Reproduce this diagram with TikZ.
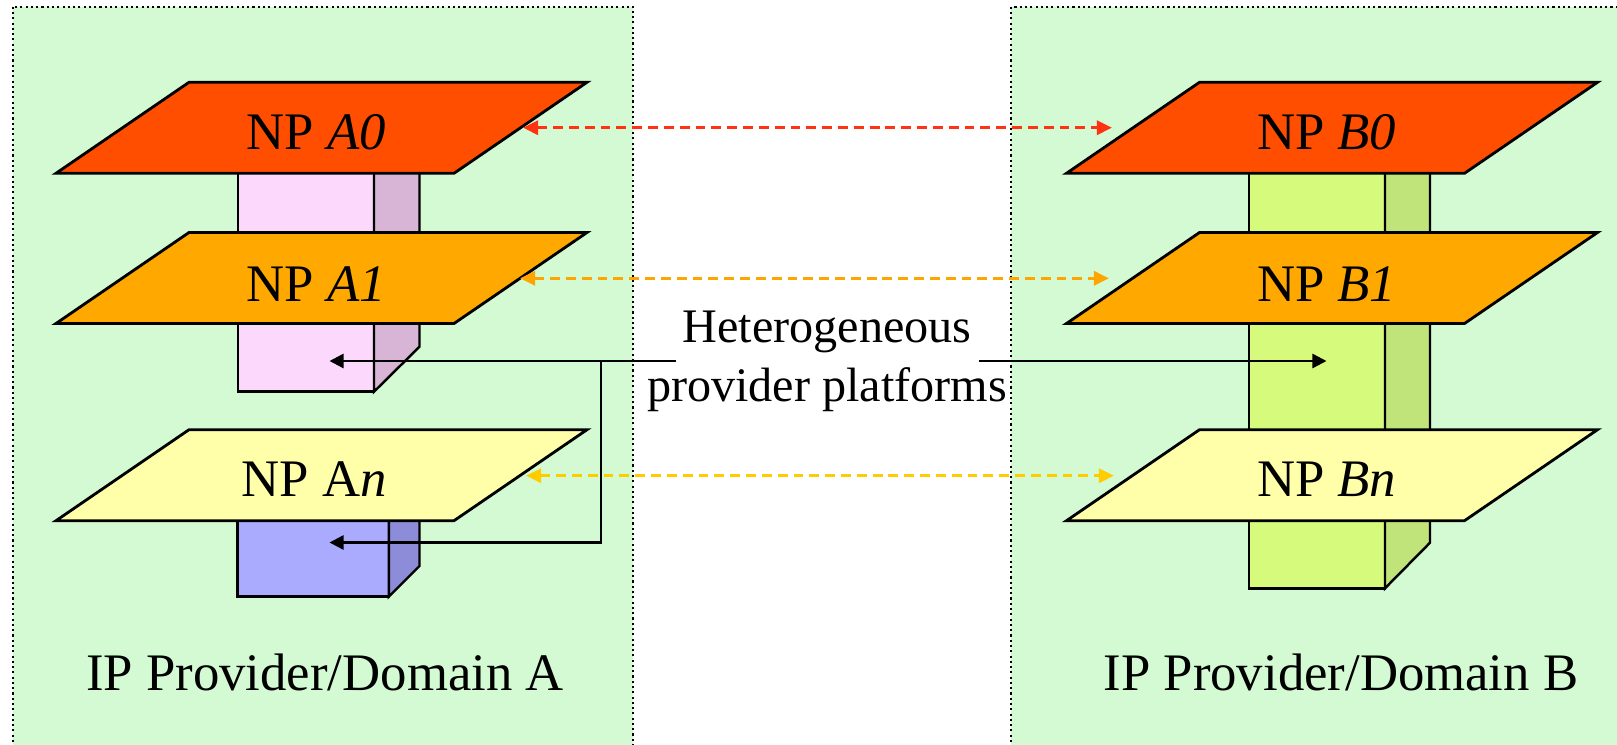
\documentclass[tikz,border=0pt]{standalone}
\usepackage{fontspec}
\setmainfont{Liberation Serif}
\usetikzlibrary{arrows.meta,positioning}

\definecolor{domaingreen}{HTML}{D4FAD4}
\definecolor{npzero}{HTML}{FF4E00}
\definecolor{npone}{HTML}{FFA800}
\definecolor{npn}{HTML}{FFFFAA}
\definecolor{pinkfront}{HTML}{FCD8FC}
\definecolor{pinkside}{HTML}{D8B4D6}
\definecolor{bluefront}{HTML}{AAAAFF}
\definecolor{blueside}{HTML}{8C8CD8}
\definecolor{limefront}{HTML}{D6FA7C}
\definecolor{limeside}{HTML}{C0E47A}
\definecolor{linkred}{HTML}{FF3311}
\definecolor{linkorange}{HTML}{FFA500}
\definecolor{linkyellow}{HTML}{FFCC00}

\begin{document}
\begin{tikzpicture}[
  x=0.01cm, y=-0.01cm,
  provbox/.style={draw, fill=domaingreen, line width=0.6pt, dash pattern=on 0.6pt off 0.9pt},
  plate/.style  ={draw, line width=0.8pt, line join=miter},
  face/.style   ={draw, line width=0.7pt},
  lbl/.style    ={font=\fontsize{15}{18}\selectfont, inner sep=0pt, anchor=base},
  note/.style   ={font=\fontsize{13.7}{16.7}\selectfont, align=center, inner sep=0pt, anchor=base},
  arr/.style    ={-{Triangle[length=4pt, width=4pt]}, line width=0.7pt},
  link/.style   ={{Triangle[length=4.3pt, width=4pt]}-{Triangle[length=4.3pt, width=4pt]},
                  line width=0.9pt, dash pattern=on 2.8pt off 1.7pt}
]
\useasboundingbox (0,0) rectangle (1617,745);
\clip (0,0) rectangle (1617,745);
\fill[white] (0,0) rectangle (1617,745);

\draw[provbox] (13.3,6.7) rectangle (633.4,760);
\draw[provbox] (1011.3,6.7) rectangle (1640,760);

\draw[face, fill=pinkfront] (238,130) rectangle (374,391.7);
\draw[face, fill=pinkside] (374,130) -- (419.5,130) -- (419.5,346.7) -- (374,391.7) -- cycle;
\draw[face, fill=bluefront] (237.5,480) rectangle (388.8,596.7);
\draw[face, fill=blueside] (388.8,480) -- (419.5,480) -- (419.5,566) -- (388.8,596.7) -- cycle;
\draw[face, fill=limefront] (1249,130) rectangle (1385,588.3);
\draw[face, fill=limeside] (1385,130) -- (1430,130) -- (1430,542.7) -- (1385,588.3) -- cycle;

\draw[plate, fill=npzero] (56,173.3) -- ++(398,0) -- ++(133,-91) -- ++(-398,0) -- cycle;
\draw[plate, fill=npone]  (56,323.5) -- ++(398,0) -- ++(133,-91) -- ++(-398,0) -- cycle;
\draw[plate, fill=npn]    (56,520.7) -- ++(398,0) -- ++(133,-91) -- ++(-398,0) -- cycle;
\draw[plate, fill=npzero] (1066.5,173.3) -- ++(398,0) -- ++(133,-91) -- ++(-398,0) -- cycle;
\draw[plate, fill=npone]  (1066.5,323.5) -- ++(398,0) -- ++(133,-91) -- ++(-398,0) -- cycle;
\draw[plate, fill=npn]    (1066.5,520.7) -- ++(398,0) -- ++(133,-91) -- ++(-398,0) -- cycle;

\node[lbl] (a0) at (316.5,149.3) {NP \textit{A0}};
\node[lbl] (a1) at (316.5,301)   {NP \textit{A1}};
\node[lbl] (an) at (314,496)     {NP A\textit{n}};
\node[lbl] (b0) at (1326.7,149.3) {NP \textit{B0}};
\node[lbl] (b1) at (1326.7,301)   {NP \textit{B1}};
\node[lbl] (bn) at (1326.7,496)   {NP \textit{Bn}};

\node[lbl] (doma) at (325,690)  {IP Provider/Domain A};
\node[lbl] (domb) at (1341,690) {IP Provider/Domain B};
\node[note] (plat) at (827,401.7) {Heterogeneous\\provider platforms};

\coordinate (a0e) at (523,127.7);
\coordinate (b0w) at (1112,127.7);
\coordinate (a1e) at (520,278.3);
\coordinate (b1w) at (1109,278.3);
\coordinate (ane) at (526,475.7);
\coordinate (bnw) at (1114,475.7);
\draw[link, linkred]    (a0e) -- (b0w);
\draw[link, linkorange] (a1e) -- (b1w);
\draw[link, linkyellow] (ane) -- (bnw);

\coordinate (gl) at (676,361);
\coordinate (gr) at (979,361);
\coordinate (split) at (601,361);
\coordinate (pinktip) at (329.5,361);
\coordinate (bluetip) at (329.5,542.5);
\coordinate (limetip) at (1326.5,361);
\draw[arr] (gl) -- (pinktip);
\draw[arr] (split) |- (bluetip);
\draw[arr] (gr) -- (limetip);
\end{tikzpicture}
\end{document}
